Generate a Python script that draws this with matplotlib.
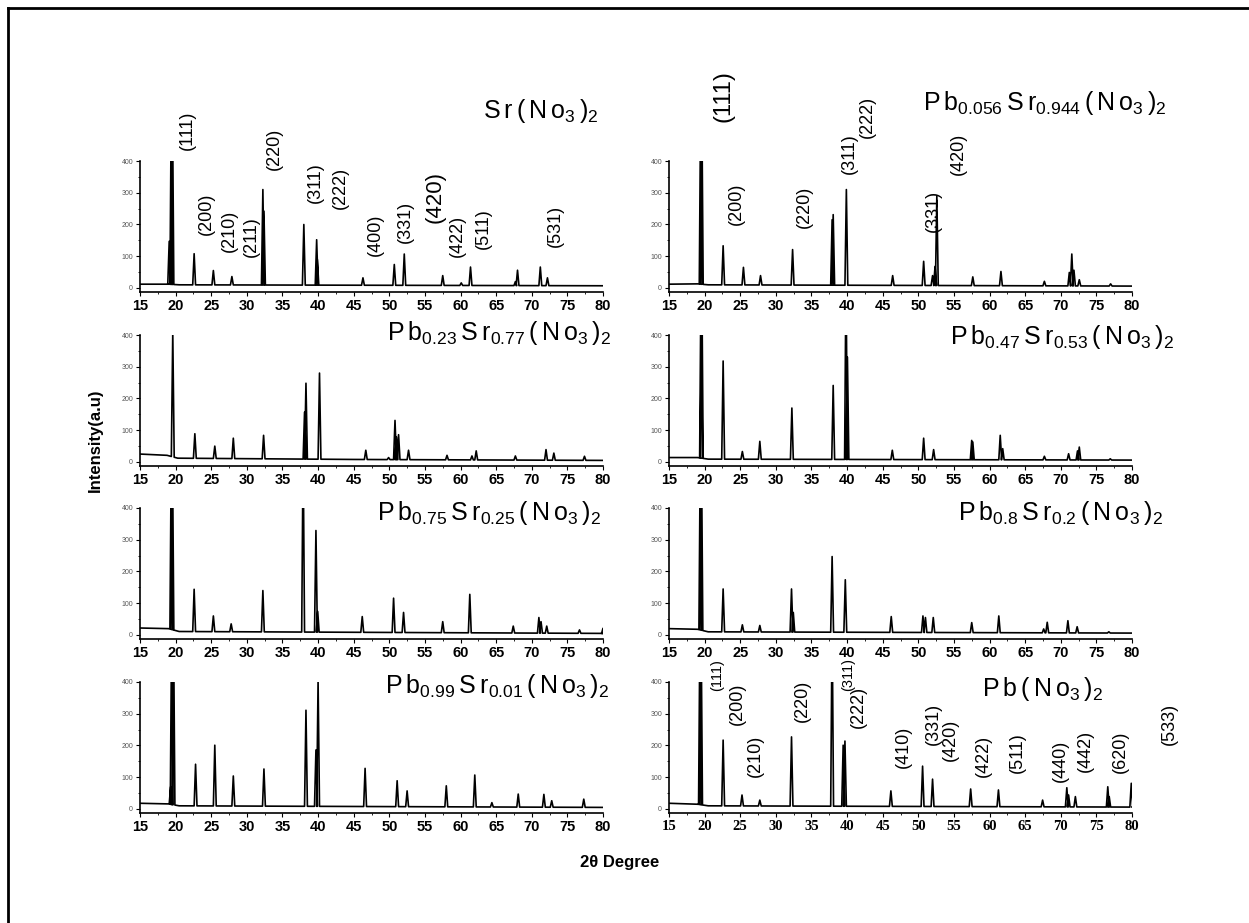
import numpy as np
import matplotlib.pyplot as plt
from matplotlib.ticker import MultipleLocator
from matplotlib.lines import Line2D

plt.rcParams['font.family'] = ['Liberation Sans', 'DejaVu Sans']

# ---- peak positions (2theta, deg) and heights (a.u.) ----
# heights above 400 are off scale (cut at the top of the axis)
sr_pos = [19.1, 19.4, 19.55, 22.6, 25.3, 27.9, 32.25, 32.4, 38.0, 39.8, 39.9, 46.3, 50.7, 52.1,
          57.5, 60.1, 61.4, 67.7, 68.0, 71.2, 72.2]
sr_int = [147, 600, 600, 108, 55, 36, 310, 242, 200, 152, 90, 32, 74, 107,
          39, 16, 66, 20, 56, 66, 32]
sr_bg_x = [15, 19, 20.5, 80]
sr_bg_y = [12, 12, 10, 7]

pb056_pos = [19.45, 19.6, 22.6, 25.45, 27.85, 32.35, 37.9, 38.05, 39.9, 46.4, 50.75, 52.0, 52.35,
             52.6, 57.65, 61.6, 67.7, 71.2, 71.55, 71.85, 72.6, 77.0]
pb056_int = [600, 600, 133, 65, 39, 121, 215, 231, 310, 39, 84, 39, 68,
             290, 35, 52, 21, 49, 107, 56, 26, 13]
pb056_bg_x = [15, 19, 20.5, 80]
pb056_bg_y = [12, 13, 10, 6]

pb23_pos = [19.6, 22.7, 25.5, 28.1, 32.35, 38.1, 38.3, 40.2, 46.7, 49.9, 50.8, 51.0, 51.3,
            52.7, 58.1, 61.6, 62.2, 67.7, 72.0, 73.1, 77.4]
pb23_int = [410, 89, 50, 75, 84, 157, 248, 280, 37, 14, 131, 79, 86,
            37, 21, 19, 35, 19, 39, 28, 18]
pb23_bg_x = [15, 18.8, 20.3, 45, 80]
pb23_bg_y = [25, 21, 12, 8, 5]

pb47_pos = [19.5, 19.6, 22.6, 25.3, 27.75, 32.25, 38.05, 39.85, 40.05, 46.35, 50.75, 52.15,
            57.5, 57.65, 61.5, 61.85, 67.7, 71.1, 72.35, 72.6, 76.95]
pb47_int = [600, 600, 318, 33, 65, 170, 241, 600, 330, 37, 75, 39,
            68, 63, 84, 42, 18, 26, 35, 47, 10]
pb47_bg_x = [15, 19, 20.5, 80]
pb47_bg_y = [14, 14, 9, 6]

pb75_pos = [19.4, 19.55, 22.6, 25.3, 27.8, 32.25, 37.9, 39.7, 39.95, 46.2, 50.6, 52.0, 57.5,
            61.3, 67.4, 71.0, 71.3, 72.1, 76.7, 80.0]
pb75_int = [600, 600, 144, 60, 35, 140, 600, 329, 74, 58, 116, 71, 42,
            128, 28, 55, 42, 28, 16, 21]
pb75_bg_x = [15, 19, 20.5, 80]
pb75_bg_y = [22, 20, 11, 5]

pb80_pos = [19.4, 19.55, 22.6, 25.3, 27.75, 32.2, 32.45, 37.9, 39.75, 46.2, 50.65, 51.0, 52.1,
            57.5, 61.3, 67.6, 68.1, 71.0, 72.3, 76.75]
pb80_int = [600, 600, 145, 32, 30, 145, 71, 247, 174, 58, 60, 55, 55,
            39, 60, 19, 40, 45, 26, 10]
pb80_bg_x = [15, 19, 20.5, 80]
pb80_bg_y = [20, 18, 10, 6]

pb99_pos = [19.3, 19.45, 19.7, 22.8, 25.5, 28.1, 32.4, 38.3, 39.7, 40.0, 46.6, 51.1, 52.5,
            58.0, 62.0, 64.4, 68.1, 71.7, 72.8, 77.3]
pb99_int = [70, 600, 600, 141, 201, 104, 126, 311, 186, 405, 128, 89, 57,
            73, 107, 20, 47, 46, 26, 31]
pb99_bg_x = [15, 19, 20.5, 80]
pb99_bg_y = [18, 16, 10, 5]

pb_pos = [19.35, 19.5, 22.6, 25.25, 27.75, 32.2, 37.9, 39.45, 39.7, 46.15, 50.6, 52.0, 57.35,
          61.25, 67.45, 70.85, 71.1, 72.05, 76.6, 76.8, 79.9]
pb_int = [600, 600, 217, 44, 28, 227, 600, 201, 214, 57, 135, 94, 63,
          60, 28, 67, 44, 39, 70, 39, 81]
pb_bg_x = [15, 19, 20.5, 80]
pb_bg_y = [18, 15, 10, 6]

# ---- sample names ----
titles = [r'$\mathregular{S\,r\,(\,N\,o_{3}\,)_{2}}$',
          r'$\mathregular{P\,b_{0.056}\,S\,r_{0.944}\,(\,N\,o_{3}\,)_{2}}$',
          r'$\mathregular{P\,b_{0.23}\,S\,r_{0.77}\,(\,N\,o_{3}\,)_{2}}$',
          r'$\mathregular{P\,b_{0.47}\,S\,r_{0.53}\,(\,N\,o_{3}\,)_{2}}$',
          r'$\mathregular{P\,b_{0.75}\,S\,r_{0.25}\,(\,N\,o_{3}\,)_{2}}$',
          r'$\mathregular{P\,b_{0.8}\,S\,r_{0.2}\,(\,N\,o_{3}\,)_{2}}$',
          r'$\mathregular{P\,b_{0.99}\,S\,r_{0.01}\,(\,N\,o_{3}\,)_{2}}$',
          r'$\mathregular{P\,b\,(\,N\,o_{3}\,)_{2}}$']

# ---- Miller indices marked on three of the patterns ----
sr_hkl = ['(111)', '(200)', '(210)', '(211)', '(220)', '(311)', '(222)', '(400)', '(331)',
          '(420)', '(422)', '(511)', '(531)']
sr_hkl_x = [21.6, 24.3, 27.6, 30.6, 33.8, 39.6, 43.1, 48.1, 52.2, 56.4, 59.6, 63.2, 73.3]
sr_hkl_y = [435, 167, 113, 98, 372, 268, 249, 101, 142, 205, 98, 123, 129]
sr_hkl_fs = [13, 13, 13, 13, 13, 13, 13, 13, 13, 16, 13, 13, 13]

pb056_hkl = ['(111)', '(200)', '(220)', '(311)', '(222)', '(331)', '(420)']
pb056_hkl_x = [22.6, 24.4, 34.0, 40.3, 42.9, 52.1, 55.6]
pb056_hkl_y = [523, 198, 189, 359, 472, 176, 356]
pb056_hkl_fs = [17, 13, 13, 13, 13, 13, 13]

pb_hkl = ['(111)', '(200)', '(210)', '(220)', '(311)', '(222)', '(410)', '(331)', '(420)',
          '(422)', '(511)', '(440)', '(442)', '(620)', '(533)']
pb_hkl_x = [21.7, 24.6, 27.1, 33.7, 40.1, 41.6, 47.9, 52.1, 54.5, 59.1, 63.9, 69.9, 73.4, 78.3, 85.3]
pb_hkl_y = [372, 265, 101, 274, 372, 255, 129, 202, 151, 101, 113, 85, 117, 113, 202]
pb_hkl_fs = [10.5, 13, 13, 13, 10.5, 13, 13, 13, 13, 13, 13, 13, 13, 13, 13]


def pattern(pos, inten, bg_x, bg_y, w=0.2):
    """build the trace as a polyline: background points plus a narrow spike per peak"""
    items = [(bx, [(bx, by)]) for bx, by in zip(bg_x, bg_y)]
    for p, h in zip(pos, inten):
        lo = np.interp(p - w, bg_x, bg_y)
        hi = np.interp(p + w, bg_x, bg_y)
        items.append((p, [(p - w, lo), (p, h), (p + w, hi)]))
    items.sort(key=lambda t: t[0])
    pts = [pt for _, grp in items for pt in grp]
    return np.array(pts)


W, H = 1249, 923
fig = plt.figure(figsize=(W / 100, H / 100), dpi=100)

lefts = [140, 669]
row_bottom = [291.8, 465.8, 638.8, 812.8]
ax_w, ax_h = 463, 130.8

panels = [
    (sr_pos, sr_int, sr_bg_x, sr_bg_y),
    (pb056_pos, pb056_int, pb056_bg_x, pb056_bg_y),
    (pb23_pos, pb23_int, pb23_bg_x, pb23_bg_y),
    (pb47_pos, pb47_int, pb47_bg_x, pb47_bg_y),
    (pb75_pos, pb75_int, pb75_bg_x, pb75_bg_y),
    (pb80_pos, pb80_int, pb80_bg_x, pb80_bg_y),
    (pb99_pos, pb99_int, pb99_bg_x, pb99_bg_y),
    (pb_pos, pb_int, pb_bg_x, pb_bg_y),
]
# title anchor (left x, baseline y) in axes fraction
title_xy = [(0.741, 1.33), (0.549, 1.39), (0.533, 0.96), (0.607, 0.93),
            (0.512, 0.91), (0.624, 0.91), (0.529, 0.915), (0.676, 0.89)]

axes = []
for i, (pos, inten, bgx, bgy) in enumerate(panels):
    r, c = divmod(i, 2)
    ax = fig.add_axes([lefts[c] / W, 1 - row_bottom[r] / H, ax_w / W, ax_h / H])
    xy = pattern(pos, inten, bgx, bgy)
    ax.plot(xy[:, 0], xy[:, 1], color='black', lw=1.2)
    ax.set_xlim(15, 80)
    ax.set_ylim(-12, 400)
    ax.spines['top'].set_visible(False)
    ax.spines['right'].set_visible(False)
    for s in ['left', 'bottom']:
        ax.spines[s].set_linewidth(1.2)
    ax.set_xticks(np.arange(15, 81, 5))
    ax.set_yticks([0, 100, 200, 300, 400])
    ax.xaxis.set_minor_locator(MultipleLocator(2.5))
    ax.yaxis.set_minor_locator(MultipleLocator(50))
    ax.tick_params(axis='both', which='major', direction='out', length=3, width=0.8)
    ax.tick_params(axis='both', which='minor', direction='out', length=1.5, width=0.6)
    ax.tick_params(axis='x', labelsize=10.5, pad=2)
    ax.tick_params(axis='y', labelsize=5, labelcolor='#555555', pad=2)
    for t in ax.get_xticklabels():
        t.set_fontweight('bold')
        if i == 7:
            t.set_family('Liberation Serif')
    tx, ty = title_xy[i]
    ax.text(tx, ty, titles[i], transform=ax.transAxes, ha='left', va='baseline', fontsize=18)
    axes.append(ax)

for ax, hkl, hx, hy, fs in [(axes[0], sr_hkl, sr_hkl_x, sr_hkl_y, sr_hkl_fs),
                            (axes[1], pb056_hkl, pb056_hkl_x, pb056_hkl_y, pb056_hkl_fs),
                            (axes[7], pb_hkl, pb_hkl_x, pb_hkl_y, pb_hkl_fs)]:
    for lab, x, y, f in zip(hkl, hx, hy, fs):
        ax.text(x, y, lab, rotation=90, ha='center', va='bottom', fontsize=f,
                family=['Liberation Sans', 'DejaVu Sans'])

fig.text(95 / W, 1 - 440 / H, 'Intensity(a.u)', rotation=90, ha='center', va='center',
         fontsize=12, fontweight='bold')
fig.text(620 / W, 1 - 862 / H, '2θ Degree', ha='center', va='center',
         fontsize=12, fontweight='bold')

# frame line of the original screenshot
fig.add_artist(Line2D([7.5 / W, 7.5 / W], [0, 1 - 7.5 / H], transform=fig.transFigure,
                      color='black', lw=2))
fig.add_artist(Line2D([7.5 / W, 1], [1 - 7.5 / H, 1 - 7.5 / H], transform=fig.transFigure,
                      color='black', lw=2))

fig.savefig('out.png', dpi=100)
